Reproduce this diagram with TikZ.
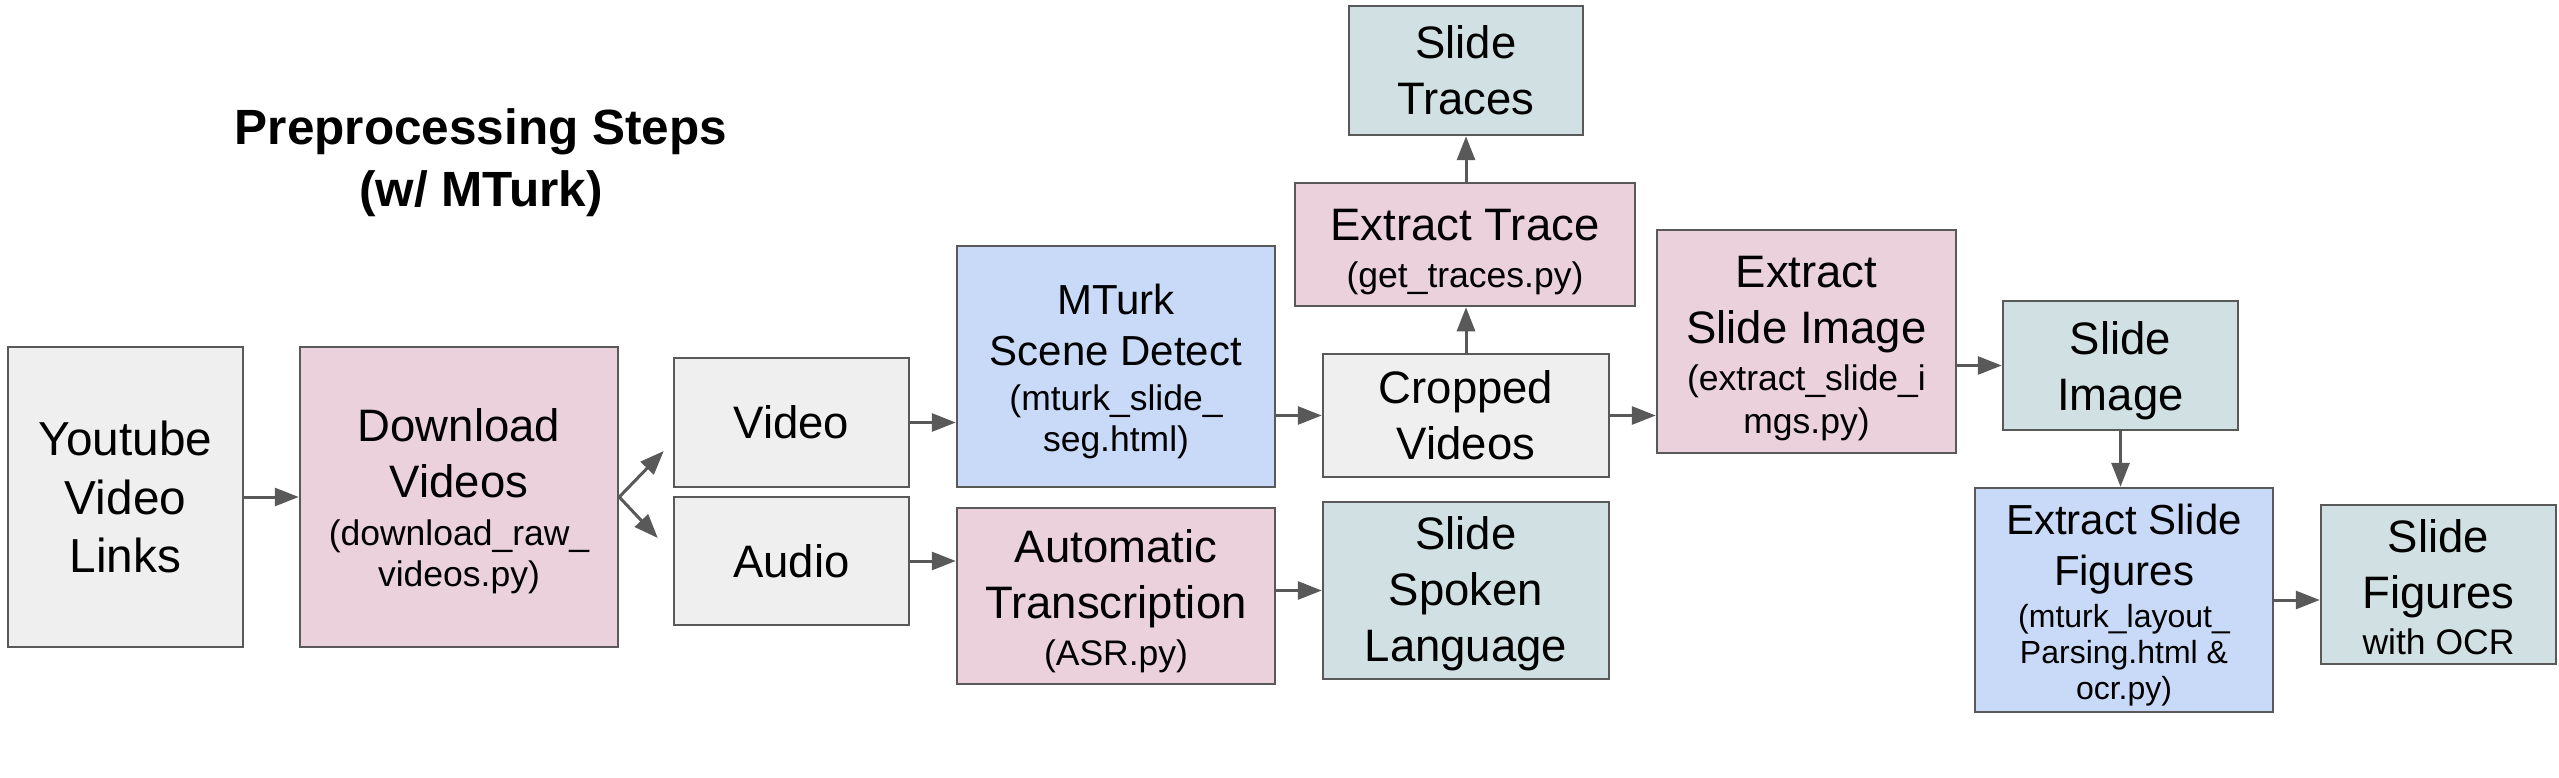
\documentclass[tikz,border=0pt]{standalone}
\usepackage{fontspec}
\setmainfont{Liberation Sans}
\usetikzlibrary{arrows.meta,calc}
\definecolor{bordergray}{HTML}{595959}
\definecolor{fgray}{HTML}{EFEFEF}
\definecolor{fpink}{HTML}{EAD1DC}
\definecolor{fblue}{HTML}{C9DAF8}
\definecolor{fteal}{HTML}{D0E0E3}
\newcommand\fmain{\fontsize{45.5}{56}\selectfont}
\newcommand\fmid{\fontsize{42}{51}\selectfont}
\newcommand\fsub{\fontsize{35.5}{41}\selectfont}
\newcommand\fsubs{\fontsize{32}{36}\selectfont}
\newcommand\fyt{\fontsize{47.7}{58.5}\selectfont}
\newcommand\ftitle{\fontsize{49.5}{62}\selectfont\bfseries}
\newcommand\tdn[1]{\rule{0pt}{#1pt}}
\tikzset{
  box/.style={draw=bordergray, line width=2.5pt, inner sep=0pt, align=center, font=\fmain},
  graybox/.style={box, fill=fgray},
  pinkbox/.style={box, fill=fpink},
  bluebox/.style={box, fill=fblue},
  tealbox/.style={box, fill=fteal},
  arr/.style={draw=bordergray, line width=3pt, -{Triangle[length=24pt,width=18pt]}},
}
\begin{document}
\begin{tikzpicture}[x=1pt,y=-1pt]
\path[use as bounding box, fill=white] (0,0) rectangle (2559,778);

\node[align=center, font=\ftitle] (title) at (481,163) {Preprocessing Steps\\(w/ MTurk)};

\node[graybox, minimum width=235pt, minimum height=300pt, font=\fyt] (yt) at (125.5,497) {Youtube\\Video\\Links};
\node[pinkbox, minimum width=318pt, minimum height=300pt] (dl) at (459,497) {\tdn{40.6}Download\\Videos\\[-8pt]\fsub (download\_raw\_\\[-15pt]\fsub videos.py)};
\node[graybox, minimum width=235pt, minimum height=129pt] (video) at (791.5,422.5) {Video};
\node[graybox, minimum width=235pt, minimum height=128pt] (audio) at (791.5,561) {Audio};
\node[bluebox, minimum width=318pt, minimum height=241pt, font=\fmid] (mturk) at (1116,366.5) {\tdn{40}MTurk\\Scene Detect\\[-6pt]\fsub (mturk\_slide\_\\[-10pt]\fsub seg.html)};
\node[pinkbox, minimum width=318pt, minimum height=176pt] (asr) at (1116,596) {\tdn{42.6}Automatic\\Transcription\\[-9pt]\fsub (ASR.py)};
\node[graybox, minimum width=286pt, minimum height=123pt] (cropped) at (1466,415.5) {Cropped\\Videos};
\node[tealbox, minimum width=286pt, minimum height=177pt] (spoken) at (1466,590.5) {\tdn{38.6}Slide\\Spoken\\Language};
\node[pinkbox, minimum width=340pt, minimum height=123pt] (trace) at (1465,244.5) {\tdn{45.6}Extract Trace\\[-9pt]\fsub (get\_traces.py)};
\node[tealbox, minimum width=234pt, minimum height=129pt] (traces) at (1466,70.5) {Slide\\Traces};
\node[pinkbox, minimum width=299pt, minimum height=223pt] (esi) at (1806.5,341.5) {\tdn{45.6}Extract\\Slide Image\\[-9pt]\fsub (extract\_slide\_i\\[-13pt]\fsub mgs.py)};
\node[tealbox, minimum width=235pt, minimum height=129pt] (simg) at (2120.5,365.5) {\tdn{42.6}Slide\\Image};
\node[bluebox, minimum width=298pt, minimum height=224pt, font=\fmid] (esf) at (2124,600) {\tdn{40}Extract Slide\\Figures\\[-9.3pt]\fsubs (mturk\_layout\_\\[-15pt]\fsubs Parsing.html \&\\[-15pt]\fsubs ocr.py)};
\node[tealbox, minimum width=235pt, minimum height=159pt] (sfig) at (2438.5,584.5) {\tdn{38.6}Slide\\Figures\\[-10pt]\fsub with OCR};

\draw[arr] (yt.east) -- (dl.west);
\draw[arr] (dl.east) -- ([xshift=-9pt,yshift=-28.5pt]video.west);
\draw[arr] (dl.east) -- ([xshift=-15pt,yshift=23pt]audio.west);
\draw[arr] (video.east) -- (video.east -| mturk.west);
\draw[arr] (audio.east) -- (audio.east -| asr.west);
\draw[arr] (cropped.west -| mturk.east) -- (cropped.west);
\draw[arr] (spoken.west -| asr.east) -- (spoken.west);
\draw[arr] (cropped.north) -- (cropped.north |- trace.south);
\draw[arr] (traces.south |- trace.north) -- (traces.south);
\draw[arr] (cropped.east) -- (cropped.east -| esi.west);
\draw[arr] (esi.east |- simg.west) -- (simg.west);
\draw[arr] (simg.south) -- (simg.south |- esf.north);
\draw[arr] (esf.east) -- (esf.east -| sfig.west);
\end{tikzpicture}
\end{document}
